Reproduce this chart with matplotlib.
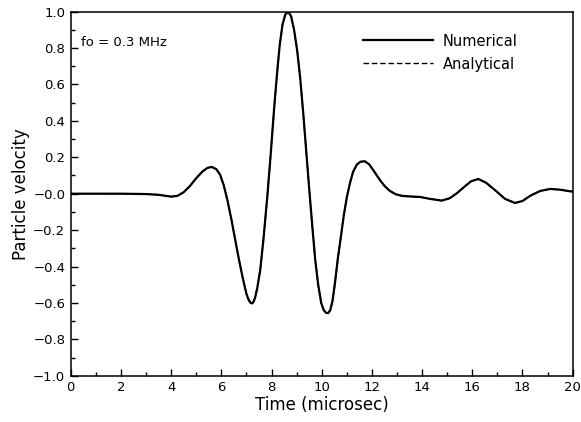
import numpy as np
import matplotlib
matplotlib.use("Agg")
import matplotlib.pyplot as plt
from matplotlib.ticker import MultipleLocator, FixedLocator, FixedFormatter

# values (time in microsec, normalised velocity)
time_us = [0.0, 1.0, 2.0, 3.0, 3.5, 3.75, 4.0, 4.25, 4.5, 4.75, 5.0, 5.25,
           5.45, 5.62, 5.8, 5.95, 6.1, 6.25, 6.4, 6.55, 6.7, 6.85, 7.0,
           7.08, 7.15, 7.21, 7.27, 7.34, 7.43, 7.55, 7.68, 7.83, 7.97, 8.1,
           8.22, 8.33, 8.44, 8.55, 8.67, 8.78, 8.9, 9.02, 9.14, 9.26, 9.38,
           9.5, 9.62, 9.74, 9.86, 9.98, 10.08, 10.17, 10.26, 10.34, 10.43,
           10.52, 10.64, 10.76, 10.88, 11.0, 11.13, 11.25, 11.4, 11.55,
           11.72, 11.9, 12.1, 12.32, 12.52, 12.72, 12.95, 13.2, 13.5, 13.92,
           14.3, 14.78, 15.1, 15.38, 15.7, 15.95, 16.24, 16.55, 16.97, 17.3,
           17.7, 18.0, 18.3, 18.7, 19.1, 19.5, 19.9, 20.0]
numerical = [0.0, 0.0, 0.0, -0.002, -0.006, -0.011, -0.016, -0.012, 0.008,
             0.042, 0.085, 0.122, 0.142, 0.147, 0.135, 0.105, 0.045, -0.04,
             -0.14, -0.25, -0.36, -0.46, -0.55, -0.58, -0.597, -0.603,
             -0.598, -0.575, -0.52, -0.42, -0.25, -0.02, 0.22, 0.46, 0.66,
             0.82, 0.93, 0.985, 1.0, 0.975, 0.9, 0.79, 0.64, 0.45, 0.24,
             0.03, -0.17, -0.36, -0.5, -0.6, -0.64, -0.654, -0.656, -0.64,
             -0.59, -0.5, -0.36, -0.24, -0.12, -0.02, 0.06, 0.12, 0.16,
             0.176, 0.178, 0.16, 0.12, 0.075, 0.04, 0.015, -0.003, -0.012,
             -0.015, -0.018, -0.028, -0.038, -0.025, 0.002, 0.04, 0.068,
             0.081, 0.06, 0.012, -0.028, -0.051, -0.04, -0.012, 0.015, 0.026,
             0.022, 0.013, 0.012]
analytical = list(numerical)  # the two curves lie on top of each other

y_ticks = [-1.0, -0.8, -0.6, -0.4, -0.2, 0.0, 0.2, 0.4, 0.6, 0.8, 1.0]
y_labels = ["\u22121.0", "\u22120.8", "\u22120.6", "\u22120.4", "\u22120.2",
            "\u22120.0", "0.2", "0.4", "0.6", "0.8", "1.0"]

fig = plt.figure(figsize=(5.81, 4.22), dpi=100)
ax = fig.add_axes([0.1217, 0.1097, 0.864, 0.8626])

ax.plot(time_us, numerical, color="black", lw=1.6, label="Numerical")
ax.plot(time_us, analytical, color="black", lw=1.0, ls=(0, (4, 2)),
        label="Analytical")

ax.set_xlim(0, 20)
ax.set_ylim(-1.0, 1.0)
ax.xaxis.set_major_locator(MultipleLocator(2))
ax.xaxis.set_minor_locator(MultipleLocator(1))
ax.yaxis.set_major_locator(FixedLocator(y_ticks))
ax.yaxis.set_major_formatter(FixedFormatter(y_labels))
ax.yaxis.set_minor_locator(MultipleLocator(0.1))
ax.tick_params(which="both", direction="in", top=False, right=False,
               labelsize=9.5, width=1.0)
ax.tick_params(which="major", length=5, pad=4)
ax.tick_params(which="minor", length=3)
for s in ax.spines.values():
    s.set_linewidth(1.1)

ax.set_xlabel("Time (microsec)", fontsize=12, labelpad=1)
ax.set_ylabel("Particle velocity", fontsize=12, labelpad=2)

ax.text(0.02, 0.915, "fo = 0.3 MHz", transform=ax.transAxes, fontsize=9.5,
        va="center", ha="left")

ax.legend(loc="upper left", bbox_to_anchor=(0.582, 0.94), frameon=False,
          fontsize=10.5, handlelength=4.8, handletextpad=0.7,
          labelspacing=0.55, borderpad=0, borderaxespad=0)

fig.savefig("out.png", dpi=100)
